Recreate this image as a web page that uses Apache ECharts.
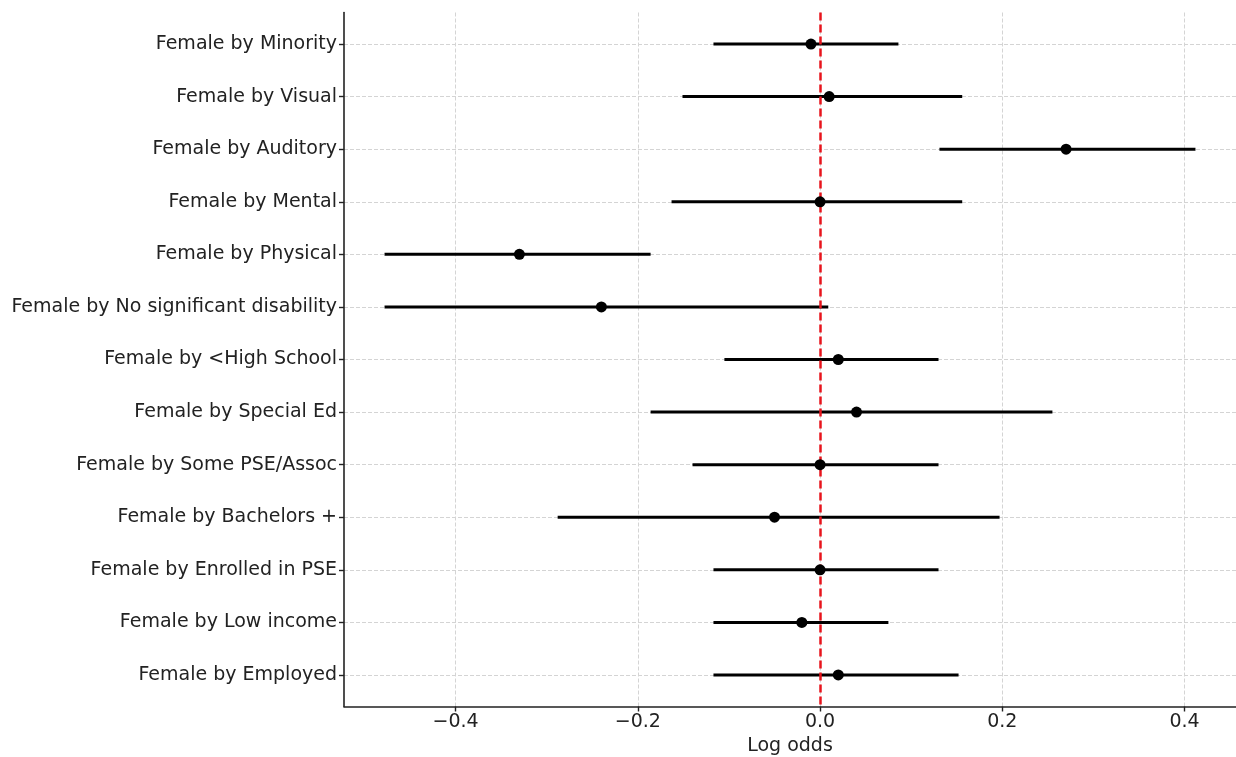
<!DOCTYPE html>
<html>
<head>
<meta charset="utf-8">
<script src="https://cdn.jsdelivr.net/npm/echarts@6/dist/echarts.min.js"></script>
<style>
  html, body { margin: 0; padding: 0; background: #fff; }
  #chart { width: 1236px; height: 757px; }
</style>
</head>
<body>
<div id="chart"></div>
<script>
const categories = [
	'Female by Minority',
	'Female by Visual',
	'Female by Auditory',
	'Female by Mental',
	'Female by Physical',
	'Female by No significant disability',
	'Female by <High School',
	'Female by Special Ed',
	'Female by Some PSE/Assoc',
	'Female by Bachelors +',
	'Female by Enrolled in PSE',
	'Female by Low income',
	'Female by Employed'
];
const estimates = [-0.01, 0.01, 0.27, 0.0, -0.33, -0.24, 0.02, 0.04, 0.0, -0.05, 0.0, -0.02, 0.02];
const lower = [-0.117, -0.151, 0.131, -0.163, -0.478, -0.478, -0.105, -0.186, -0.14, -0.288, -0.117, -0.117, -0.117];
const upper = [0.086, 0.156, 0.412, 0.156, -0.186, 0.009, 0.13, 0.255, 0.13, 0.197, 0.13, 0.075, 0.152];
const xTicks = [-0.4, -0.2, 0, 0.2, 0.4];

const FONT = 'DejaVu Sans';
const rowIdx = categories.map((c, i) => i);

const chart = echarts.init(document.getElementById('chart'), null, { renderer: 'canvas' });

const gridLine = { show: true, lineStyle: { color: '#d4d4d4', width: 1, type: [4, 2] } };

chart.setOption({
	animation: false,
	textStyle: { fontFamily: FONT },
	grid: { left: 344, right: 0, top: 12.5, bottom: 50.5, containLabel: false, outerBoundsMode: 'none' },
	xAxis: {
		type: 'value',
		min: -0.5225,
		max: 0.4565,
		name: 'Log odds',
		nameLocation: 'middle',
		nameGap: 28,
		nameTextStyle: { fontSize: 19, color: '#222', fontFamily: FONT },
		axisLine: { show: true, onZero: false, lineStyle: { color: '#222', width: 1.6 } },
		axisTick: { show: true, length: 5, customValues: xTicks, lineStyle: { color: '#222', width: 1.4 } },
		axisLabel: {
			customValues: xTicks,
			fontSize: 19, color: '#222', margin: 6, fontFamily: FONT,
			formatter: v => v.toFixed(1).replace('-', '\u2212')
		},
		splitLine: gridLine
	},
	yAxis: {
		type: 'value',
		inverse: true,
		min: -0.6,
		max: 12.6,
		axisLine: { show: true, onZero: false, lineStyle: { color: '#222', width: 1.6 } },
		axisTick: { show: true, length: 5, customValues: rowIdx, lineStyle: { color: '#222', width: 1.4 } },
		axisLabel: {
			customValues: rowIdx,
			fontSize: 19, color: '#222', margin: 7, fontFamily: FONT,
			formatter: v => categories[Math.round(v)]
		},
		splitLine: gridLine
	},
	series: [
		{
			type: 'custom',
			z: 2,
			data: categories.map((c, i) => [lower[i], upper[i], i]),
			encode: { x: [0, 1], y: 2 },
			renderItem: (params, api) => {
				const a = api.coord([api.value(0), api.value(2)]);
				const b = api.coord([api.value(1), api.value(2)]);
				return {
					type: 'line',
					shape: { x1: a[0], y1: a[1], x2: b[0], y2: b[1] },
					style: { stroke: '#000', lineWidth: 3 }
				};
			},
			markLine: {
				silent: true,
				z: 5,
				symbol: 'none',
				label: { show: false },
				lineStyle: { color: '#e8141c', width: 2.5, type: [8, 4] },
				data: [{ xAxis: 0 }]
			}
		},
		{
			type: 'scatter',
			z: 10,
			symbol: 'circle',
			symbolSize: 11,
			itemStyle: { color: '#000', opacity: 1 },
			data: estimates.map((v, i) => [v, i])
		}
	]
});
</script>
</body>
</html>
